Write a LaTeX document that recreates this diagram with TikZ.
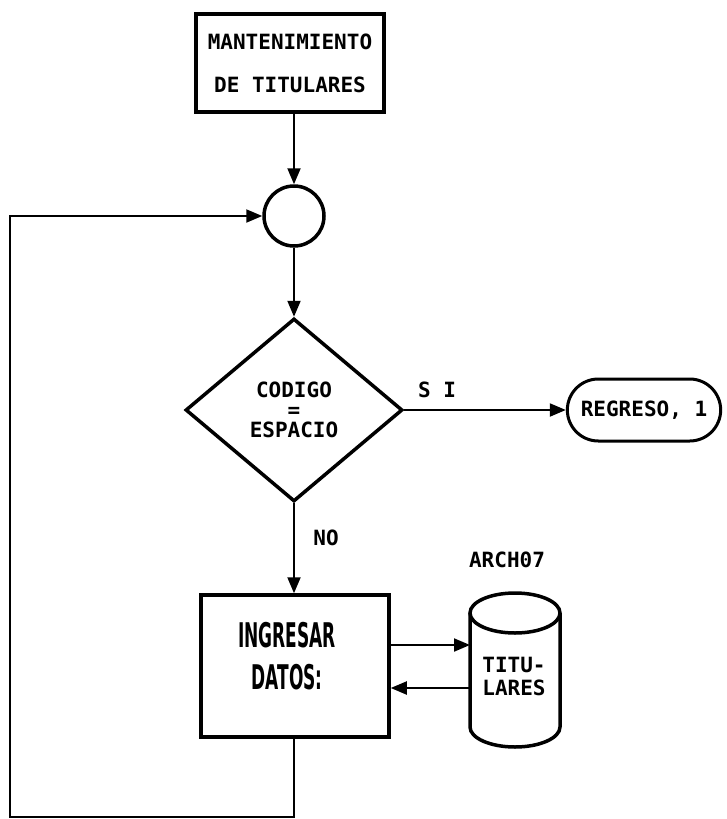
\documentclass[tikz,border=0pt]{standalone}
\usepackage{fontspec}
\setmainfont{DejaVu Sans Mono}
\newfontfamily\tallfont[FakeStretch=0.5]{DejaVu Sans}
\usetikzlibrary{arrows.meta,shapes.geometric,shapes.misc}
\begin{document}
\begin{tikzpicture}[x=1pt,y=-1pt,
  lbl/.style={font=\fontsize{21}{20}\selectfont\bfseries, inner sep=0},
  boxline/.style={draw, line width=3.5pt},
  conn/.style={line width=2pt},
  arr/.style={conn, -{Triangle[length=16pt,width=13pt]}}]
\useasboundingbox (0,0) rectangle (727,819);
% nodes
\node[boxline, minimum width=188, minimum height=98, align=center,
      font=\fontsize{21}{43}\selectfont\bfseries] (b1) at (290,63) {MANTENIMIENTO\\DE TITULARES};
\node[circle, draw, line width=3.5pt, minimum size=60, inner sep=0] (c) at (294,216) {};
\node[diamond, draw, line width=3.5pt, minimum width=217, minimum height=183, inner sep=0,
      align=center, font=\fontsize{21}{20}\selectfont\bfseries] (d) at (294,410) {CODIGO\\=\\ESPACIO};
\node[rounded rectangle, draw, line width=3pt, minimum width=160, minimum height=62,
      font=\fontsize{21}{20}\selectfont\bfseries] (t) at (644,410) {REGRESO, 1};
\node[boxline, minimum width=188, minimum height=142] (b2) at (295,666) {};
\node[font=\tallfont\fontsize{34}{42}\selectfont\bfseries, align=center, inner sep=0] (b2t) at (287,656) {INGRESAR\\DATOS:};
% cylinder
\coordinate (cyl) at (515,613);
\draw[line width=3.5pt] (cyl) ellipse [x radius=45, y radius=20];
\draw[line width=3.5pt] (470,613) -- (470,727) arc[start angle=180, end angle=0, x radius=45, y radius=20] -- (560,613);
\node[lbl, align=center, font=\fontsize{21}{23}\selectfont\bfseries] (tit) at (514,676) {TITU-\\LARES};
\coordinate (dbA) at (470,645);
\coordinate (dbB) at (470,688);
% labels
\node[lbl] (si) at (437,390) {S I};
\node[lbl] (no) at (326,538) {NO};
\node[lbl] (arch) at (507,560) {ARCH07};
% connectors
\draw[arr] (b1.south -| c) -- (c.north);
\draw[arr] (c.south) -- (d.north);
\draw[arr] (d.east) -- (t.west);
\draw[arr] (d.south) -- (b2.north -| d);
\draw[arr] (b2.east |- dbA) -- (dbA);
\draw[arr] (dbB) -- (b2.east |- dbB);
\coordinate (L1) at (10,817);
\draw[arr] (b2.south -| d) |- (L1) |- (c.west);
\end{tikzpicture}
\end{document}
